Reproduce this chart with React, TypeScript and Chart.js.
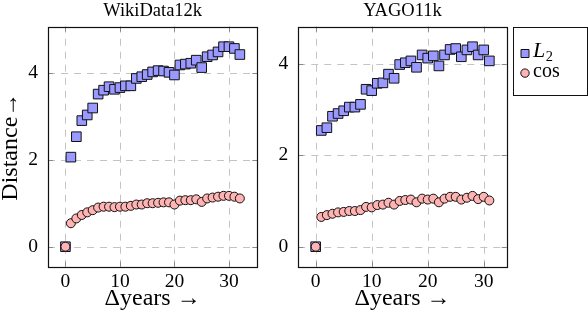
import React, { useEffect, useRef } from 'react';
import { Chart, registerables } from 'chart.js';

Chart.register(...registerables);

// ---------- data ----------
const wikiYears = [0, 1, 2, 3, 4, 5, 6, 7, 8, 9, 10, 11, 12, 13, 14, 15, 16, 17, 18, 19, 20, 21, 22, 23, 24, 25, 26, 27, 28, 29, 30, 31, 32];
const wikiL2 = [0, 2.06, 2.53, 2.9, 3.03, 3.19, 3.51, 3.6, 3.68, 3.62, 3.66, 3.7, 3.7, 3.87, 3.91, 3.96, 4.02, 4.05, 4.04, 4.01, 3.95, 4.18, 4.2, 4.22, 4.29, 4.12, 4.37, 4.41, 4.48, 4.6, 4.6, 4.56, 4.42];
const wikiCos = [0, 0.54, 0.65, 0.73, 0.79, 0.84, 0.9, 0.92, 0.92, 0.91, 0.92, 0.92, 0.94, 0.97, 0.97, 1.0, 1.0, 1.01, 1.02, 1.02, 0.97, 1.06, 1.07, 1.07, 1.09, 1.03, 1.11, 1.13, 1.15, 1.17, 1.17, 1.15, 1.11];

const yagoYears = [0, 1, 2, 3, 4, 5, 6, 7, 8, 9, 10, 11, 12, 13, 14, 15, 16, 17, 18, 19, 20, 21, 22, 23, 24, 25, 26, 27, 28, 29, 30, 31];
const yagoL2 = [0, 2.54, 2.6, 2.85, 2.91, 2.97, 3.05, 3.05, 3.11, 3.44, 3.41, 3.57, 3.58, 3.77, 3.68, 3.98, 4.02, 4.06, 3.92, 4.19, 4.12, 4.17, 3.95, 4.19, 4.31, 4.33, 4.15, 4.3, 4.37, 4.19, 4.3, 4.06];
const yagoCos = [0, 0.65, 0.69, 0.72, 0.75, 0.76, 0.78, 0.78, 0.8, 0.87, 0.86, 0.91, 0.92, 0.96, 0.92, 1.0, 1.02, 1.03, 0.97, 1.05, 1.03, 1.05, 0.97, 1.05, 1.09, 1.09, 1.03, 1.07, 1.11, 1.04, 1.09, 1.01];

const seriesLabels = ['L₂', 'cos'];
const panelTitles = ['WikiData12k', 'YAGO11k'];
const xTickValues = [0, 10, 20, 30];
const yTickValues = [0, 2, 4];
const xAxisTitle = 'Δyears →';
const yAxisTitle = 'Distance→';

// ---------- styles ----------
const FONT = "'Liberation Serif', 'DejaVu Serif', serif";
const TICK_FS = 19.5;
const TITLE_FS = 18.5;
const AXIS_FS = 24;
const LEGEND_FS = 20;
const L2_FILL = 'rgb(153,153,255)';
const COS_FILL = 'rgb(255,179,179)';
const GRID = '#c4c4c4';
const TICK = '#8a8a8a';
const H = 316;

function enlarged(values: number[]): [number, number] {
  const mn = Math.min(...values);
  const mx = Math.max(...values);
  const d = (mx - mn) * 0.1;
  return [mn - d, mx + d];
}

const framePlugin = {
  id: 'frame',
  beforeDatasetsDraw(chart: any) {
    const { ctx, chartArea: a, scales } = chart;
    const xs = scales.x;
    const ys = scales.y;
    const r = (v: number) => Math.round(v) + 0.5;
    ctx.save();
    ctx.lineWidth = 1;
    ctx.strokeStyle = GRID;
    ctx.setLineDash([7, 6]);
    xs.ticks.forEach((t: any) => {
      const px = r(xs.getPixelForValue(t.value));
      ctx.beginPath();
      ctx.moveTo(px, a.bottom);
      ctx.lineTo(px, a.top);
      ctx.stroke();
    });
    ys.ticks.forEach((t: any) => {
      const py = r(ys.getPixelForValue(t.value));
      ctx.beginPath();
      ctx.moveTo(a.left, py);
      ctx.lineTo(a.right, py);
      ctx.stroke();
    });
    ctx.setLineDash([]);
    ctx.strokeStyle = TICK;
    const tl = 5;
    xs.ticks.forEach((t: any) => {
      const px = r(xs.getPixelForValue(t.value));
      ctx.beginPath();
      ctx.moveTo(px, a.bottom);
      ctx.lineTo(px, a.bottom - tl);
      ctx.moveTo(px, a.top);
      ctx.lineTo(px, a.top + tl);
      ctx.stroke();
    });
    ys.ticks.forEach((t: any) => {
      const py = r(ys.getPixelForValue(t.value));
      ctx.beginPath();
      ctx.moveTo(a.left, py);
      ctx.lineTo(a.left + tl, py);
      ctx.moveTo(a.right, py);
      ctx.lineTo(a.right - tl, py);
      ctx.stroke();
    });
    ctx.strokeStyle = '#111';
    ctx.lineWidth = 1.2;
    ctx.strokeRect(Math.round(a.left) + 0.5, Math.round(a.top) + 0.5, Math.round(a.right) - Math.round(a.left), Math.round(a.bottom) - Math.round(a.top));
    ctx.restore();
  },
};

const legendPlugin = {
  id: 'customLegend',
  afterDraw(chart: any) {
    const opts = chart.options.plugins.customLegend;
    if (!opts || !opts.show) return;
    const { ctx, chartArea: a } = chart;
    const bx = Math.round(a.right + 6.6) + 0.5;
    const by = Math.round(a.top) + 0.5;
    const bw = 74;
    const bh = 68;
    ctx.save();
    ctx.fillStyle = '#fff';
    ctx.fillRect(bx, by, bw, bh);
    ctx.strokeStyle = '#111';
    ctx.lineWidth = 1;
    ctx.strokeRect(bx, by, bw, bh);
    chart.data.datasets.forEach((ds: any, i: number) => {
      const cy = by + 26 + i * 19.6;
      const cx = bx + 11.5;
      ctx.fillStyle = ds.backgroundColor;
      ctx.strokeStyle = '#111';
      ctx.lineWidth = 1;
      ctx.beginPath();
      if (ds.pointStyle === 'rect') {
        ctx.rect(cx - 4, cy - 4, 8, 8);
      } else {
        ctx.arc(cx, cy, 4.2, 0, Math.PI * 2);
      }
      ctx.fill();
      ctx.stroke();
      const label: string = ds.label;
      const tx = bx + 19.5;
      const ty = cy + 3.5;
      ctx.fillStyle = '#000';
      ctx.textBaseline = 'alphabetic';
      ctx.textAlign = 'left';
      if (label.includes('₂')) {
        const base = label.replace('₂', '');
        ctx.font = `italic ${LEGEND_FS + 2}px ${FONT}`;
        ctx.fillText(base, tx, ty);
        const w = ctx.measureText(base).width;
        ctx.font = `${LEGEND_FS * 0.72}px ${FONT}`;
        ctx.fillText('2', tx + w + 0.5, ty + 3.5);
      } else {
        ctx.font = `${LEGEND_FS}px ${FONT}`;
        ctx.fillText(label, tx, ty);
      }
    });
    ctx.restore();
  },
};

type PanelProps = {
  left: number;
  width: number;
  yAxisWidth: number;
  padRight: number;
  title: string;
  years: number[];
  l2: number[];
  cos: number[];
  showYTitle: boolean;
  showLegend: boolean;
};

function Panel(p: PanelProps) {
  const ref = useRef<HTMLCanvasElement | null>(null);
  useEffect(() => {
    if (!ref.current) return;
    const [xmin, xmax] = enlarged(p.years);
    const [ymin, ymax] = enlarged([...p.l2, ...p.cos]);
    const tickFont = { family: FONT, size: TICK_FS, weight: 'normal' as const };
    const titleFont = { family: FONT, size: TITLE_FS, weight: 'normal' as const };
    const axisFont = { family: FONT, size: AXIS_FS, weight: 'normal' as const };
    const chart = new Chart(ref.current, {
      type: 'scatter',
      data: {
        datasets: [
          {
            label: seriesLabels[0],
            data: p.years.map((x, i) => ({ x, y: p.l2[i] })),
            pointStyle: 'rect',
            pointRadius: 6.8,
            pointHoverRadius: 6.8,
            backgroundColor: L2_FILL,
            borderColor: '#111',
            borderWidth: 1,
            showLine: false,
            order: 1,
          },
          {
            label: seriesLabels[1],
            data: p.years.map((x, i) => ({ x, y: p.cos[i] })),
            pointStyle: 'circle',
            pointRadius: 4.5,
            pointHoverRadius: 4.5,
            backgroundColor: COS_FILL,
            borderColor: '#111',
            borderWidth: 1,
            showLine: false,
            order: 0,
          },
        ],
      },
      options: {
        responsive: false,
        animation: false,
        devicePixelRatio: 1,
        events: [],
        layout: { padding: { left: 0, right: p.padRight, top: 0, bottom: 0 } },
        plugins: {
          legend: { display: false },
          tooltip: { enabled: false },
          title: {
            display: true,
            text: p.title,
            color: '#000',
            font: titleFont,
            fullSize: false,
            padding: { top: 0.3, bottom: 4.2 },
          },
          customLegend: { show: p.showLegend },
        } as any,
        scales: {
          x: {
            type: 'linear',
            min: xmin,
            max: xmax,
            afterBuildTicks: (s: any) => {
              s.ticks = xTickValues.map((v) => ({ value: v }));
            },
            afterFit: (s: any) => {
              s.height = H - 266.7;
            },
            grid: { display: false, drawTicks: false },
            border: { display: false },
            ticks: { padding: 3, color: '#000', font: tickFont, callback: (v: any) => String(v) },
            title: {
              display: true,
              text: xAxisTitle,
              color: '#000',
              font: axisFont,
              padding: { top: 0, bottom: 2.6 },
            },
          },
          y: {
            type: 'linear',
            min: ymin,
            max: ymax,
            afterBuildTicks: (s: any) => {
              s.ticks = yTickValues.map((v) => ({ value: v }));
            },
            afterFit: (s: any) => {
              s.width = p.yAxisWidth;
            },
            grid: { display: false, drawTicks: false },
            border: { display: false },
            ticks: { padding: 10, color: '#000', font: tickFont, callback: (v: any) => String(v) },
            title: {
              display: p.showYTitle,
              text: yAxisTitle,
              color: '#000',
              font: axisFont,
              padding: { top: -3.4, bottom: 0 },
            },
          },
        },
      } as any,
      plugins: [framePlugin, legendPlugin],
    });
    return () => chart.destroy();
  }, []);
  return (
    <canvas
      ref={ref}
      width={p.width}
      height={H}
      style={{ position: 'absolute', left: p.left, top: 0, width: p.width, height: H, display: 'block' }}
    />
  );
}

export default function App() {
  return (
    <div style={{ position: 'fixed', left: 0, top: 0, width: 588, height: H, background: '#fff', overflow: 'hidden' }}>
      <Panel
        left={0}
        width={275}
        yAxisWidth={48}
        padRight={275 - 257.3}
        title={panelTitles[0]}
        years={wikiYears}
        l2={wikiL2}
        cos={wikiCos}
        showYTitle={true}
        showLegend={false}
      />
      <Panel
        left={275}
        width={313}
        yAxisWidth={298.3 - 275}
        padRight={313 - (506.7 - 275)}
        title={panelTitles[1]}
        years={yagoYears}
        l2={yagoL2}
        cos={yagoCos}
        showYTitle={false}
        showLegend={true}
      />
    </div>
  );
}
